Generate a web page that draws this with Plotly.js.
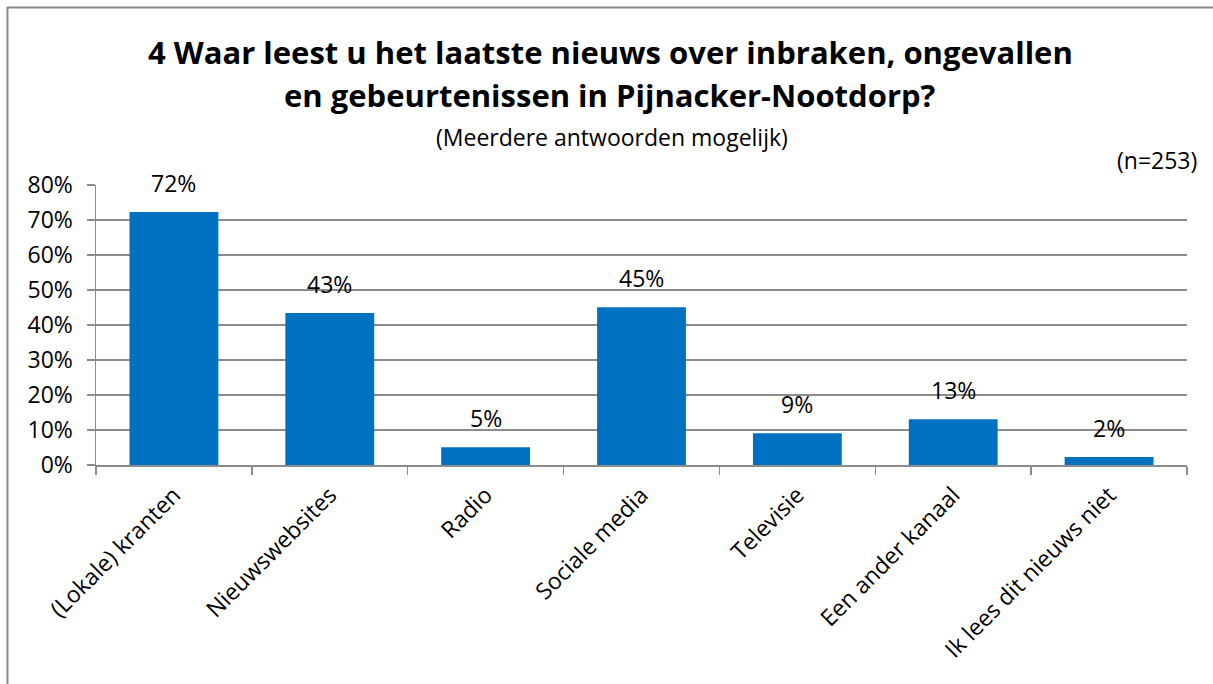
<!DOCTYPE html>
<html>
<head>
<meta charset="utf-8">
<script src="https://cdn.plot.ly/plotly-3.0.1.min.js"></script>
<style>
  html, body { margin: 0; padding: 0; background: #fff; overflow: hidden; }
  #chart { width: 1213px; height: 684px; }
</style>
</head>
<body>
<div id="chart"></div>
<script>
const categories = ["(Lokale) kranten", "Nieuwswebsites", "Radio", "Sociale media", "Televisie", "Een ander kanaal", "Ik lees dit nieuws niet"];
const values = [0.723, 0.434, 0.051, 0.451, 0.091, 0.131, 0.023];
const valueLabels = ["72%", "43%", "5%", "45%", "9%", "13%", "2%"];
const titleLine1 = "4 Waar leest u het laatste nieuws over inbraken, ongevallen";
const titleLine2 = "en gebeurtenissen in Pijnacker-Nootdorp?";
const subtitle = "(Meerdere antwoorden mogelijk)";
const sampleNote = "(n=253)";

const FONT = "'Open Sans', sans-serif";
const GRID = "#8c8c8c";
const FS = 23;

// plot area in pixels: x 96..1187, y 185..465
const L = 96, R = 1187, T = 185, B = 465;
const px = x => (x - L) / (R - L);
const py = y => (B - y) / (B - T);

const trace = {
  type: "bar",
  x: categories,
  y: values,
  marker: { color: "#0070C0" },
  hoverinfo: "x+y"
};

const annotations = categories.map((c, i) => ({
  x: c, y: values[i], xref: "x", yref: "y",
  text: valueLabels[i], showarrow: false,
  yanchor: "bottom", yshift: 11,
  font: { family: FONT, size: FS, color: "#000" }
}));

annotations.push(
  { xref: "paper", yref: "paper", x: px(610), y: py(52), xanchor: "center", yanchor: "middle",
    text: "<b>" + titleLine1 + "</b>", showarrow: false,
    font: { family: FONT, size: 31, color: "#000" } },
  { xref: "paper", yref: "paper", x: px(610), y: py(95), xanchor: "center", yanchor: "middle",
    text: "<b>" + titleLine2 + "</b>", showarrow: false,
    font: { family: FONT, size: 31, color: "#000" } },
  { xref: "paper", yref: "paper", x: px(612), y: py(137), xanchor: "center", yanchor: "middle",
    text: subtitle, showarrow: false,
    font: { family: FONT, size: FS, color: "#000" } },
  { xref: "paper", yref: "paper", x: px(1199), y: py(160), xanchor: "right", yanchor: "middle",
    text: sampleNote, showarrow: false,
    font: { family: FONT, size: FS, color: "#000" } }
);

const layout = {
  width: 1213, height: 684,
  margin: { l: L, r: 1213 - R, t: T, b: 684 - B, pad: 0 },
  paper_bgcolor: "#fff", plot_bgcolor: "#fff",
  showlegend: false,
  bargap: 0.43,
  font: { family: FONT, size: FS, color: "#000" },
  xaxis: {
    type: "category",
    tickangle: -45,
    tickson: "boundaries",
    ticks: "outside", ticklen: 8, tickwidth: 1.5, tickcolor: GRID,
    showline: true, linecolor: GRID, linewidth: 1.5,
    showgrid: false, zeroline: false,
    ticklabelstandoff: 6,
    tickfont: { family: FONT, size: FS, color: "#000" },
    automargin: false
  },
  yaxis: {
    range: [0, 0.8],
    dtick: 0.1, tick0: 0,
    tickformat: ".0%",
    ticks: "outside", ticklen: 8, tickwidth: 1.5, tickcolor: GRID,
    showline: true, linecolor: GRID, linewidth: 1.5,
    showgrid: true, gridcolor: GRID, gridwidth: 1.5,
    zeroline: false,
    ticklabelstandoff: 9,
    tickfont: { family: FONT, size: FS, color: "#000" },
    automargin: false
  },
  annotations: annotations,
  shapes: [
    { type: "line", xref: "paper", yref: "paper", x0: px(7), x1: px(1260), y0: py(7.5), y1: py(7.5),
      line: { color: "#888", width: 2 } },
    { type: "line", xref: "paper", yref: "paper", x0: px(7.5), x1: px(7.5), y0: py(7), y1: py(700),
      line: { color: "#888", width: 2 } }
  ]
};

Plotly.newPlot("chart", [trace], layout, { displayModeBar: false, staticPlot: true });
</script>
</body>
</html>
